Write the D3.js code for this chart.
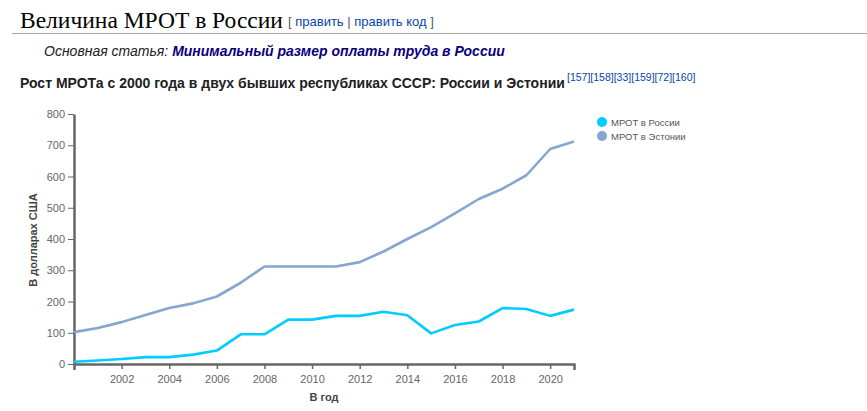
<!DOCTYPE html>
<meta charset="utf-8">
<script src="https://d3js.org/d3.v7.min.js"></script>
<style>
  body { margin: 0; background: #fff; font-family: "Liberation Sans", Arial, sans-serif; }
  .axis path, .axis line { stroke: #666; }
  .axis text { fill: #666; font-size: 11px; font-family: "Liberation Sans", Arial, sans-serif; }
</style>
<svg id="chart" width="867" height="411"></svg>
<script>

// data
var years = d3.range(2000, 2022);
var russia = [7, 11, 16, 22, 22, 30, 43, 95, 95, 142, 142, 154, 154, 167, 156, 98, 125, 136, 179, 176, 154, 174];
var estonia = [102, 115, 134, 157, 179, 194, 216, 260, 312, 312, 312, 312, 326, 360, 400, 438, 482, 528, 561, 604, 688, 712];
var seriesNames = ["МРОТ в России", "МРОТ в Эстонии"];
var seriesColors = ["#00ccff", "#86a6d0"];
var yTicks = [0, 100, 200, 300, 400, 500, 600, 700, 800];
var xTicks = [2002, 2004, 2006, 2008, 2010, 2012, 2014, 2016, 2018, 2020];

var svg = d3.select("#chart");

// page header
svg.append("text")
    .attr("x", 20).attr("y", 28)
    .style("font-family", "'Liberation Serif', 'DejaVu Serif', serif")
    .style("font-size", "23.5px")
    .style("fill", "#000")
    .text("Величина МРОТ в России");

var edit = svg.append("text")
    .attr("x", 288).attr("y", 26)
    .style("font-size", "13px")
    .style("fill", "#54595d");
edit.append("tspan").text("[ ");
edit.append("tspan").style("fill", "#0645ad").text("править");
edit.append("tspan").text(" | ");
edit.append("tspan").style("fill", "#0645ad").text("править код");
edit.append("tspan").text(" ]");

svg.append("line")
    .attr("x1", 12).attr("x2", 867)
    .attr("y1", 33.5).attr("y2", 33.5)
    .attr("stroke", "#a2a9b1");

var main = svg.append("text")
    .attr("x", 44).attr("y", 56)
    .style("font-size", "14px")
    .style("font-style", "italic");
main.append("tspan").style("fill", "#202122").text("Основная статья: ");
main.append("tspan").style("fill", "#0b0080").style("font-weight", "bold").text("Минимальный размер оплаты труда в России");

var title = svg.append("text")
    .attr("x", 20).attr("y", 88)
    .style("font-size", "14px")
    .style("font-weight", "bold")
    .style("fill", "#202122")
    .text("Рост МРОТа с 2000 года в двух бывших республиках СССР: России и Эстонии");
svg.append("text")
    .attr("x", 567).attr("y", 81)
    .style("font-size", "10.5px")
    .style("fill", "#0645ad")
    .text("[157][158][33][159][72][160]");

// chart
var x = d3.scaleLinear().domain([2000, 2021]).range([74, 574]);
var y = d3.scaleLinear().domain([0, 800]).range([364, 114]);

svg.append("g")
    .attr("class", "axis")
    .attr("transform", "translate(74,0)")
    .call(d3.axisLeft(y).tickValues(yTicks).tickSize(6).tickSizeOuter(0))
    .call(g => g.select(".domain").attr("stroke-width", 2.5));

var xAxis = svg.append("g")
    .attr("class", "axis")
    .attr("transform", "translate(0,364)")
    .call(d3.axisBottom(x).tickValues(xTicks).tickFormat(d3.format("d")).tickSize(5).tickSizeOuter(6).tickPadding(6));
xAxis.select(".domain").attr("stroke-width", 2.5);
xAxis.selectAll(".tick line").attr("stroke-width", 1.5);

svg.append("text")
    .attr("transform", "translate(37,240) rotate(-90)")
    .attr("text-anchor", "middle")
    .style("font-size", "11px")
    .style("font-weight", "bold")
    .style("fill", "#444")
    .text("В долларах США");

svg.append("text")
    .attr("x", 324).attr("y", 401)
    .attr("text-anchor", "middle")
    .style("font-size", "11px")
    .style("font-weight", "bold")
    .style("fill", "#444")
    .text("В год");

var line = d3.line()
    .x((d, i) => x(years[i]))
    .y(d => y(d));

[russia, estonia].forEach(function(s, k) {
  svg.append("path")
      .datum(s)
      .attr("fill", "none")
      .attr("stroke", seriesColors[k])
      .attr("stroke-width", 2.6)
      .attr("stroke-linejoin", "round")
      .attr("d", line);
});

// legend
var legend = svg.append("g").attr("transform", "translate(602,122)");
seriesNames.forEach(function(n, k) {
  legend.append("circle")
      .attr("cx", 0).attr("cy", k * 14)
      .attr("r", 5)
      .attr("fill", seriesColors[k]);
  legend.append("text")
      .attr("x", 9).attr("y", k * 14 + 3.5)
      .style("font-size", "9.5px")
      .style("fill", "#555")
      .text(n);
});

</script>
